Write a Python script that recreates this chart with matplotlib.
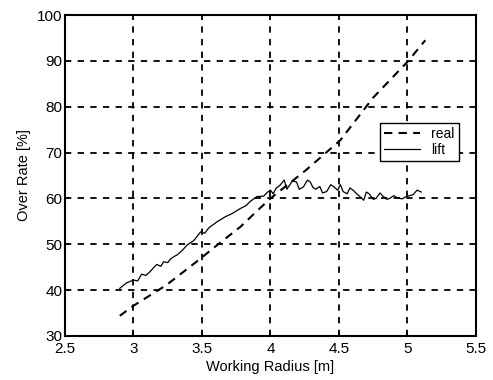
import matplotlib
matplotlib.use("Agg")
import matplotlib.pyplot as plt

plt.rcParams['font.family'] = ['Liberation Sans', 'DejaVu Sans']

# real over rate (dashed)
real_x = [2.90, 3.00, 3.24, 3.46, 3.61, 3.78, 3.91, 4.00, 4.26, 4.51, 4.75, 5.00, 5.13]
real_y = [34.4, 36.6, 41.1, 46.2, 49.8, 53.8, 57.5, 60.0, 66.2, 72.7, 82.0, 89.8, 94.5]

# lift over rate (solid, noisy)
lift_x = [2.90, 2.95, 3.00, 3.03, 3.06, 3.09, 3.12, 3.15, 3.17, 3.20, 3.22, 3.25,
          3.27, 3.30, 3.32, 3.36, 3.39, 3.44, 3.49, 3.52, 3.55, 3.61, 3.67, 3.72,
          3.78, 3.82, 3.85, 3.90, 3.95, 3.98, 4.00, 4.02, 4.04, 4.07, 4.10, 4.12,
          4.13, 4.16, 4.19, 4.21, 4.24, 4.27, 4.29, 4.31, 4.33, 4.36, 4.38, 4.41,
          4.44, 4.46, 4.49, 4.51, 4.53, 4.56, 4.58, 4.61, 4.63, 4.66, 4.68, 4.70,
          4.72, 4.75, 4.77, 4.80, 4.82, 4.85, 4.87, 4.90, 4.92, 4.96, 4.99, 5.04,
          5.07, 5.10]
lift_y = [40.4, 41.6, 42.2, 42.0, 43.5, 43.2, 44.0, 45.0, 45.6, 45.2, 46.2, 46.0,
          46.8, 47.4, 47.7, 48.8, 49.8, 50.8, 52.7, 52.4, 53.6, 54.9, 56.0, 56.7,
          57.8, 58.4, 59.3, 60.4, 60.5, 61.4, 61.8, 61.0, 62.2, 62.9, 64.0, 62.0,
          62.5, 63.8, 63.6, 62.0, 62.5, 64.0, 63.6, 62.4, 62.0, 62.6, 61.2, 61.5,
          63.0, 62.6, 61.8, 63.0, 61.5, 61.0, 62.3, 61.6, 61.0, 60.2, 59.6, 61.4,
          61.0, 59.8, 60.0, 61.2, 60.5, 59.8, 60.0, 60.6, 60.2, 59.9, 60.4, 60.8,
          61.8, 61.4]

fig = plt.figure(figsize=(4.93, 3.80), dpi=100)
ax = fig.add_axes([0.1318, 0.1158, 0.8337, 0.8447])

ax.plot(real_x, real_y, color='black', linestyle=(0, (4, 3)), linewidth=1.5, label='real')
ax.plot(lift_x, lift_y, color='black', linestyle='-', linewidth=0.9, label='lift')

ax.set_xlim(2.5, 5.5)
ax.set_ylim(30, 100)
ax.set_xticks([2.5, 3, 3.5, 4, 4.5, 5, 5.5])
ax.set_xticklabels(['2.5', '3', '3.5', '4', '4.5', '5', '5.5'])
ax.set_yticks([30, 40, 50, 60, 70, 80, 90, 100])

ax.grid(True, color='black', linestyle=(0, (3.5, 3.5)), linewidth=1.3)
for s in ax.spines.values():
    s.set_linewidth(1.5)
ax.tick_params(direction='in', length=3, width=1.2, labelsize=11, pad=2)
ax.tick_params(axis='x', pad=4)

ax.set_xlabel('Working Radius [m]', fontsize=10.5, labelpad=3)
ax.set_ylabel('Over Rate [%]', fontsize=10.5, labelpad=4)

leg = ax.legend(loc='upper left', bbox_to_anchor=(0.766, 0.664), borderaxespad=0,
                fancybox=False, framealpha=1, edgecolor='black', fontsize=10,
                handlelength=2.6, labelspacing=0.15, borderpad=0.3)
leg.get_frame().set_linewidth(1.0)

fig.savefig('out.png', dpi=100)
